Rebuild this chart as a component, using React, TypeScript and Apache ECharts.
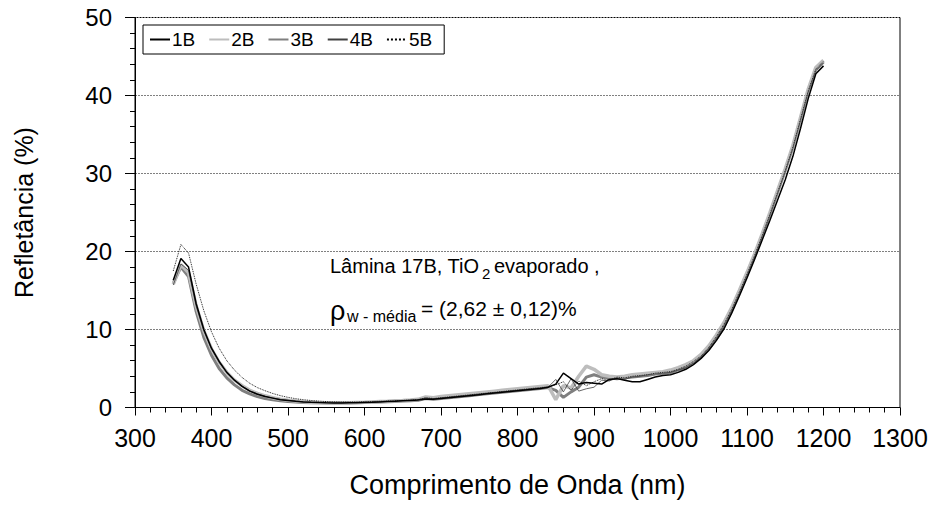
import React, { useEffect, useRef } from "react";
import * as echarts from "echarts";

const wavelengths: number[] = [];
for (let w = 350; w <= 1200; w += 10) wavelengths.push(w);

const s1B = [16.3, 19.1, 18.0, 13.3, 10.0, 7.6, 5.9, 4.5, 3.5, 2.7, 2.1, 1.7, 1.4, 1.2, 1.0, 0.9, 0.8, 0.72, 0.67, 0.63, 0.6, 0.58, 0.58, 0.6, 0.62, 0.65, 0.68, 0.72, 0.76, 0.8, 0.85, 0.9, 0.95, 1.1, 1.05, 1.15, 1.25, 1.35, 1.45, 1.55, 1.65, 1.75, 1.85, 1.95, 2.05, 2.15, 2.25, 2.35, 2.45, 2.6, 3.0, 4.4, 3.7, 3.0, 3.2, 3.1, 3.0, 3.6, 3.7, 3.5, 3.3, 3.3, 3.6, 3.9, 4.1, 4.2, 4.5, 4.9, 5.5, 6.3, 7.3, 8.6, 10.1, 12.1, 14.3, 16.6, 19.0, 21.5, 24.0, 26.6, 29.2, 32.2, 35.8, 39.6, 42.8, 43.8];
const s2B = [15.8, 18.3, 17.3, 13.0, 9.8, 7.5, 5.8, 4.5, 3.5, 2.8, 2.2, 1.8, 1.5, 1.25, 1.05, 0.92, 0.82, 0.74, 0.68, 0.64, 0.62, 0.6, 0.6, 0.62, 0.65, 0.68, 0.72, 0.76, 0.8, 0.85, 0.9, 0.96, 1.05, 1.35, 1.25, 1.4, 1.5, 1.6, 1.7, 1.8, 1.9, 2.0, 2.1, 2.2, 2.3, 2.4, 2.5, 2.6, 2.7, 2.8, 1.0, 2.8, 2.5, 4.0, 5.3, 4.9, 4.2, 4.0, 3.9, 4.0, 4.2, 4.3, 4.4, 4.5, 4.6, 4.8, 5.1, 5.5, 6.0, 6.8, 7.9, 9.3, 10.9, 12.8, 15.0, 17.3, 19.7, 22.3, 25.0, 27.8, 30.6, 33.6, 37.2, 40.8, 43.6, 44.5];
const s3B = [15.9, 18.0, 16.8, 12.3, 9.0, 6.7, 5.0, 3.8, 2.9, 2.2, 1.75, 1.4, 1.15, 0.98, 0.86, 0.77, 0.7, 0.65, 0.62, 0.6, 0.58, 0.57, 0.57, 0.58, 0.6, 0.63, 0.66, 0.7, 0.74, 0.78, 0.83, 0.88, 0.93, 1.15, 1.05, 1.15, 1.25, 1.35, 1.45, 1.55, 1.65, 1.75, 1.85, 1.95, 2.05, 2.15, 2.25, 2.35, 2.45, 2.55, 2.2, 1.3, 2.0, 2.6, 3.9, 4.2, 3.9, 3.8, 3.7, 3.8, 3.9, 4.0, 4.1, 4.3, 4.4, 4.5, 4.8, 5.2, 5.8, 6.5, 7.5, 8.8, 10.4, 12.5, 14.8, 17.1, 19.5, 22.1, 24.8, 27.6, 30.4, 33.4, 37.0, 40.6, 43.3, 44.3];
const s4B = [15.7, 18.4, 17.6, 13.0, 9.8, 7.5, 5.8, 4.5, 3.5, 2.75, 2.15, 1.75, 1.45, 1.22, 1.04, 0.92, 0.82, 0.74, 0.69, 0.65, 0.62, 0.6, 0.6, 0.62, 0.64, 0.67, 0.7, 0.74, 0.78, 0.82, 0.87, 0.92, 0.98, 1.2, 1.1, 1.2, 1.3, 1.4, 1.5, 1.6, 1.7, 1.8, 1.9, 2.0, 2.1, 2.2, 2.3, 2.4, 2.5, 2.6, 3.6, 2.0, 3.7, 2.1, 2.4, 2.6, 3.5, 3.4, 3.8, 3.6, 3.9, 4.0, 4.2, 4.3, 4.4, 4.5, 4.8, 5.1, 5.7, 6.5, 7.6, 8.9, 10.5, 12.4, 14.6, 16.9, 19.3, 21.9, 24.6, 27.4, 30.2, 33.2, 36.8, 40.4, 43.2, 44.2];
const s5B = [17.5, 20.9, 19.8, 15.8, 12.4, 9.7, 7.6, 6.0, 4.8, 3.85, 3.1, 2.55, 2.15, 1.8, 1.52, 1.3, 1.13, 1.0, 0.9, 0.82, 0.76, 0.72, 0.7, 0.7, 0.71, 0.73, 0.76, 0.79, 0.83, 0.87, 0.91, 0.96, 1.02, 1.25, 1.15, 1.25, 1.35, 1.45, 1.55, 1.65, 1.75, 1.85, 1.95, 2.05, 2.15, 2.25, 2.35, 2.45, 2.55, 2.65, 2.9, 3.3, 2.2, 3.4, 2.8, 3.3, 3.7, 3.5, 3.9, 3.8, 4.0, 4.1, 4.2, 4.4, 4.5, 4.6, 4.9, 5.3, 5.9, 6.6, 7.7, 9.1, 10.7, 12.6, 14.8, 17.1, 19.5, 22.1, 24.8, 27.6, 30.4, 33.4, 37.0, 40.6, 43.4, 44.4];

const seriesNames = ["1B", "2B", "3B", "4B", "5B"];
const xTitle = "Comprimento de Onda (nm)";
const yTitle = "Refletância (%)";

const FONT = "'Liberation Sans', Arial, sans-serif";

export default function App() {
  const ref = useRef<HTMLDivElement>(null);
  useEffect(() => {
    if (!ref.current) return;
    const chart = echarts.init(ref.current, undefined, { renderer: "svg" });
    const pair = (arr: number[]) => wavelengths.map((w, i) => [w, arr[i]]);
    const styles = [
      { color: "#000000", width: 1.5, type: "solid", z: 6 },
      { color: "#bdbdbd", width: 3.5, type: "solid", z: 3 },
      { color: "#7f7f7f", width: 3, type: "solid", z: 2 },
      { color: "#404040", width: 0.8, type: "solid", z: 5 },
      { color: "#000000", width: 0.9, type: "dotted", z: 4 },
    ];
    const datas = [s1B, s2B, s3B, s4B, s5B];
    chart.setOption({
      animation: false,
      textStyle: { fontFamily: FONT, color: "#000" },
      grid: {
        left: 135,
        right: 36,
        top: 17.5,
        bottom: 99.5,
        show: true,
        borderColor: "#000",
        borderWidth: 1,
        backgroundColor: "transparent",
      },
      legend: {
        data: seriesNames,
        left: 143,
        top: 25,
        padding: [5, 12, 5, 6],
        itemGap: 13,
        itemWidth: 20,
        itemHeight: 12,
        borderColor: "#000",
        borderWidth: 1,
        borderRadius: 0,
        itemStyle: { opacity: 0 },
        textStyle: { fontSize: 19, color: "#000", fontFamily: FONT, padding: [0, 0, 0, -3] },
      },
      xAxis: {
        type: "value",
        min: 300,
        max: 1300,
        interval: 100,
        name: xTitle,
        nameLocation: "middle",
        nameGap: 64,
        nameTextStyle: { fontSize: 27, color: "#000", fontFamily: FONT },
        axisLine: { show: true, lineStyle: { color: "#000", width: 1 } },
        axisTick: { show: true, length: 8, inside: false, lineStyle: { color: "#000" } },
        minorTick: { show: true, splitNumber: 5, length: 5, lineStyle: { color: "#000" } },
        axisLabel: { fontSize: 25, color: "#000", margin: 18, fontFamily: FONT, formatter: (v: number) => String(v) },
        splitLine: { show: false },
      },
      yAxis: {
        type: "value",
        min: 0,
        max: 50,
        interval: 10,
        name: yTitle,
        nameLocation: "middle",
        nameGap: 99,
        nameRotate: 90,
        nameTextStyle: { fontSize: 25, color: "#000", fontFamily: FONT },
        axisLine: { show: true, lineStyle: { color: "#000", width: 1 } },
        axisTick: { show: true, length: 10, lineStyle: { color: "#000" } },
        minorTick: { show: true, splitNumber: 5, length: 5, lineStyle: { color: "#000" } },
        axisLabel: { fontSize: 24, color: "#000", margin: 23, fontFamily: FONT, formatter: (v: number) => String(v) },
        splitLine: { show: true, lineStyle: { color: "#808080", type: [2, 1], width: 1 } },
      },
      series: seriesNames.map((n, i) => ({
        name: n,
        type: "line",
        data: pair(datas[i]),
        symbol: "none",
        showSymbol: false,
        z: styles[i].z,
        lineStyle: { color: styles[i].color, width: styles[i].width, type: styles[i].type },
        itemStyle: { color: styles[i].color },
      })),
      graphic: [
        { type: "text", left: 330, top: 256, style: { text: "Lâmina 17B, TiO", fontSize: 20, fill: "#000", fontFamily: FONT } },
        { type: "text", left: 482, top: 266, style: { text: "2", fontSize: 15, fill: "#000", fontFamily: FONT } },
        { type: "text", left: 494, top: 256, style: { text: "evaporado ,", fontSize: 20, fill: "#000", fontFamily: FONT } },
        { type: "text", left: 330, top: 297, style: { text: "ρ", fontSize: 27, fill: "#000", fontFamily: FONT } },
        { type: "text", left: 347, top: 308, style: { text: "w - média", fontSize: 16, fill: "#000", fontFamily: FONT } },
        { type: "text", left: 421, top: 298, style: { text: "= (2,62 ± 0,12)%", fontSize: 21, fill: "#000", fontFamily: FONT } },
      ],
    });
    return () => chart.dispose();
  }, []);
  return (
    <div
      ref={ref}
      style={{ position: "fixed", left: 0, top: 0, width: 936, height: 507, background: "#fff" }}
    />
  );
}
